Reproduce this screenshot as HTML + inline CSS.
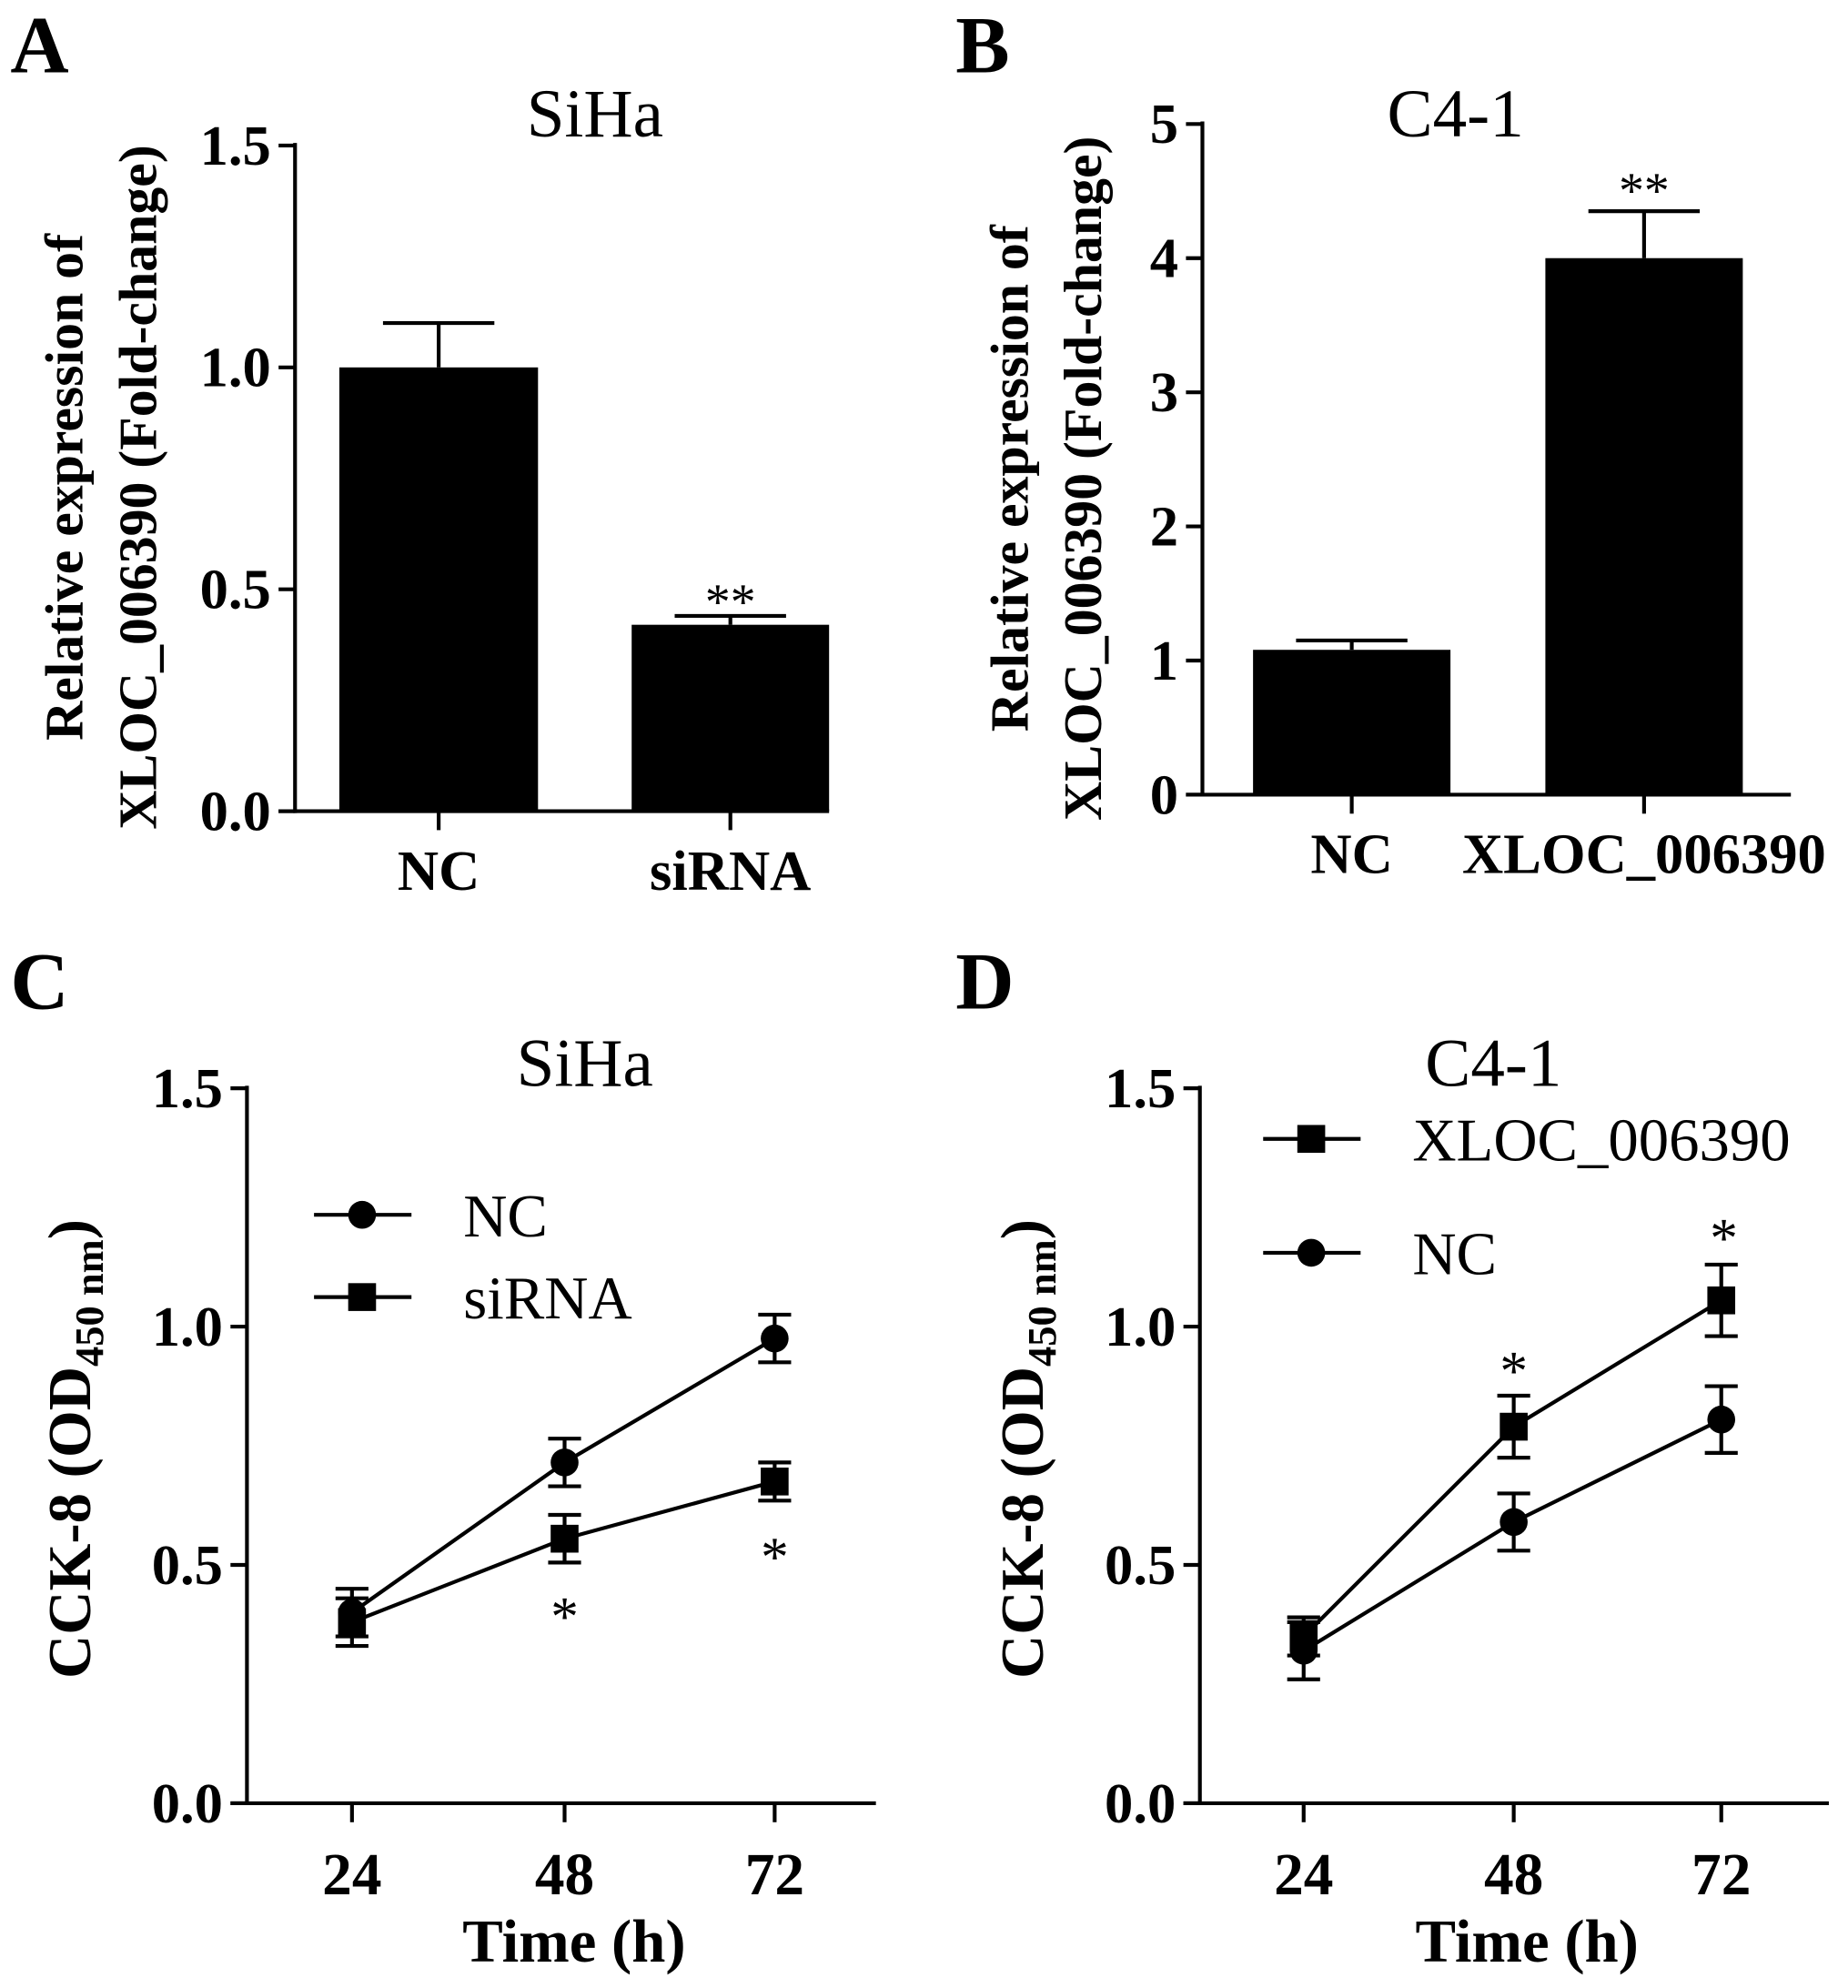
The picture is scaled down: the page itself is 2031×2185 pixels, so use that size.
<!DOCTYPE html>
<html><head><meta charset="utf-8"><style>
html,body{margin:0;padding:0;background:#fff;}
svg{display:block;}
text{font-family:"Liberation Serif",serif;fill:#000;}
.b{font-weight:bold;}
</style></head><body>
<svg id="fig" width="2031" height="2185" viewBox="0 0 1460 1571" xmlns="http://www.w3.org/2000/svg">
<g id="root"></g>
</svg>
<script>
// Panel A data
const aCategories = ["NC", "siRNA"];
const aValues = [1.0, 0.42];
const aErrors = [0.10, 0.02];
const aTicks = ["0.0", "0.5", "1.0", "1.5"];
// Panel B data
const bCategories = ["NC", "XLOC_006390"];
const bValues = [1.08, 4.0];
const bErrors = [0.07, 0.35];
const bTicks = ["0", "1", "2", "3", "4", "5"];
// Panel C data
const cTimes = ["24", "48", "72"];
const cNC = [0.40, 0.715, 0.975];
const cNCerr = [0.05, 0.05, 0.05];
const cSi = [0.38, 0.555, 0.675];
const cSiErr = [0.05, 0.05, 0.04];
// Panel D data
const dTimes = ["24", "48", "72"];
const dX = [0.35, 0.79, 1.055];
const dXerr = [0.04, 0.065, 0.075];
const dNC = [0.32, 0.59, 0.805];
const dNCerr = [0.06, 0.06, 0.07];
const lineTicks = ["0.0", "0.5", "1.0", "1.5"];

const NS = "http://www.w3.org/2000/svg";
const root = document.getElementById("root");
function el(tag, attrs, parent, txt) {
  const e = document.createElementNS(NS, tag);
  for (const k in attrs) e.setAttribute(k, attrs[k]);
  if (txt !== undefined) e.textContent = txt;
  (parent || root).appendChild(e);
  return e;
}
function ln(x1, y1, x2, y2, p, w) { return el("line", {x1, y1, x2, y2, stroke: "#000", "stroke-width": w || 3}, p); }

function axes(g, ax, y0, y1, xEnd, tickVals, ticks, scale) {
  ln(ax, y1 - 2, ax, y0 + 1.5, g);
  ln(ax - 13, y0, xEnd, y0, g);
  ticks.forEach((t, i) => {
    const y = scale(tickVals[i]);
    ln(ax - 13, y, ax, y, g);
    const tx = el("text", {x: ax - 19, y: y + 15, "font-size": 45, "text-anchor": "end", class: "b"}, g, t);
    
    
  });
}

function barPanel(name, cats, vals, errs, ticks, max, ax, yTop, y0, xEnd, bars, title, titleX) {
  const g = el("g", {}, root);
  
  
  const scale = v => y0 - (v / max) * (y0 - yTop);
  axes(g, ax, y0, yTop, xEnd, ticks.map(Number), ticks, scale);
  cats.forEach((c, i) => {
    const [x1, x2] = bars[i];
    const cx = (x1 + x2) / 2;
    const r = el("rect", {x: x1, y: scale(vals[i]), width: x2 - x1, height: y0 - scale(vals[i]), fill: "#000"}, g);
    
    
    const ey = scale(vals[i] + errs[i]);
    ln(cx, scale(vals[i]), cx, ey, g);
    ln(cx - 44, ey, cx + 44, ey, g);
    ln(cx, y0, cx, y0 + 15, g);
    const t = el("text", {x: cx, y: y0 + 62, "font-size": 45, "text-anchor": "middle", class: "b"}, g, c);
    
    
  });
  const tt = el("text", {x: titleX, y: 108, "font-size": 54, "text-anchor": "middle"}, g, title);
  
  
  return {g, scale};
}

const A = barPanel("panel-a", aCategories, aValues, aErrors, aTicks, 1.5, 233, 115, 641, 655, [[268, 425], [499, 655]], "SiHa", 470);
el("text", {x: 577, y: 489, "font-size": 40, "text-anchor": "middle"}, A.g, "**");
const B = barPanel("panel-b", bCategories, bValues, bErrors, bTicks, 5, 950, 98, 628, 1415, [[990, 1146], [1221, 1377]], "C4-1", 1150);
el("text", {x: 1299, y: 164, "font-size": 40, "text-anchor": "middle"}, B.g, "**");

// y titles for bar panels
[[50, "Relative expression of"], [108, "XLOC_006390 (Fold-change)"], [797, "Relative expression of"], [855, "XLOC_006390 (Fold-change)"]].forEach((d, i) => {
  const t = el("text", {x: 0, y: 0, "font-size": 43, "text-anchor": "middle", class: "b", transform: `translate(${d[0] + 15},${i < 2 ? 385 : 378}) rotate(-90)`}, root, d[1]);
  
  
});

function marker(g, type, x, y) {
  if (type === "circle") return el("circle", {cx: x, cy: y, r: 11, fill: "#000"}, g);
  return el("rect", {x: x - 11, y: y - 11, width: 22, height: 22, fill: "#000"}, g);
}

function linePanel(name, times, series, ax, xEnd, xs, title, titleX) {
  const g = el("g", {}, root);
  
  
  const yTop = 860, y0 = 1425;
  const scale = v => y0 - (v / 1.5) * (y0 - yTop);
  axes(g, ax, y0, yTop, xEnd, lineTicks.map(Number), lineTicks, scale);
  times.forEach((t, i) => {
    ln(xs[i], y0, xs[i], y0 + 15, g);
    const tx = el("text", {x: xs[i], y: y0 + 72, "font-size": 47, "text-anchor": "middle", class: "b"}, g, t);
    
    
  });
  const xt = el("text", {x: (ax + xEnd) / 2 + 10, y: 1550, "font-size": 48, "text-anchor": "middle", class: "b"}, g, "Time (h)");
  
  
  series.forEach(s => {
    const pts = s.vals.map((v, i) => xs[i] + "," + scale(v)).join(" ");
    const pl = el("polyline", {points: pts, fill: "none", stroke: "#000", "stroke-width": 3}, g);
    
    
    s.vals.forEach((v, i) => {
      const hi = scale(v + s.err[i]), lo = scale(v - s.err[i]);
      ln(xs[i], hi, xs[i], lo, g);
      ln(xs[i] - 13, hi, xs[i] + 13, hi, g);
      ln(xs[i] - 13, lo, xs[i] + 13, lo, g);
      const m = marker(g, s.type, xs[i], scale(v));
      
      
    });
  });
  const tt = el("text", {x: titleX, y: 858, "font-size": 54, "text-anchor": "middle"}, g, title);
  
  
  const yt = el("text", {x: 0, y: 0, "font-size": 48, "text-anchor": "middle", class: "b", transform: `translate(${ax - 124},1145) rotate(-90)`}, g);
  
  
  yt.innerHTML = 'CCK-8 (OD<tspan font-size="32" dy="10">450 nm</tspan><tspan dy="-10">)</tspan>';
  return {g, scale};
}

const C = linePanel("panel-c", cTimes, [
  {key: "nc", type: "circle", vals: cNC, err: cNCerr},
  {key: "sirna", type: "square", vals: cSi, err: cSiErr}], 195, 692, [278, 446, 612], "SiHa", 462);
el("text", {x: 446, y: 1292, "font-size": 44, "text-anchor": "middle"}, C.g, "*");
el("text", {x: 612, y: 1245, "font-size": 44, "text-anchor": "middle"}, C.g, "*");
[[960, "circle", "NC"], [1025, "square", "siRNA"]].forEach(d => {
  const lg = el("g", {}, C.g);
  
  
  ln(248, d[0], 325, d[0], lg);
  marker(lg, d[1], 286, d[0]);
  el("text", {x: 366, y: d[0] + 17, "font-size": 48}, lg, d[2]);
});

const D = linePanel("panel-d", dTimes, [
  {key: "xloc", type: "square", vals: dX, err: dXerr},
  {key: "nc", type: "circle", vals: dNC, err: dNCerr}], 948, 1445, [1030, 1196, 1360], "C4-1", 1180);
el("text", {x: 1196, y: 1098, "font-size": 44, "text-anchor": "middle"}, D.g, "*");
el("text", {x: 1362, y: 993, "font-size": 44, "text-anchor": "middle"}, D.g, "*");
[[900, "square", "XLOC_006390"], [990, "circle", "NC"]].forEach(d => {
  const lg = el("g", {}, D.g);
  
  
  ln(998, d[0], 1075, d[0], lg);
  marker(lg, d[1], 1036, d[0]);
  el("text", {x: 1116, y: d[0] + 17, "font-size": 48}, lg, d[2]);
});

// panel letters
[[8, 57, "A"], [755, 57, "B"], [8, 797, "C"], [755, 797, "D"]].forEach(d => {
  const t = el("text", {x: d[0], y: d[1], "font-size": 64, class: "b"}, root, d[2]);
  
  
});
</script>
</body></html>
